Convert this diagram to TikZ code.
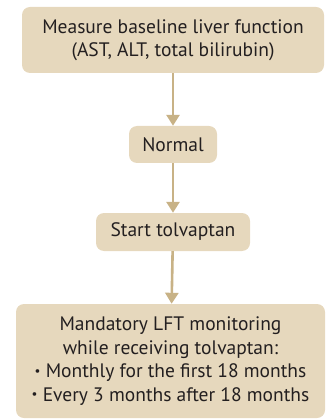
\documentclass[tikz,border=0pt]{standalone}
\usepackage{fontspec}
\setmainfont{PT Sans}
\usetikzlibrary{arrows.meta}
\definecolor{boxfill}{HTML}{E6D8BD}
\definecolor{arrowc}{HTML}{C8B286}
\definecolor{txt}{HTML}{231F20}
\newcommand{\smbul}{{\fontsize{13}{13}\selectfont\raisebox{2.5pt}{\textbullet}}\ }
\tikzset{
  stepbox/.style={fill=boxfill, rounded corners=8pt, inner sep=0pt, align=center, text=txt,
    font=\fontsize{19.5}{23.5}\selectfont},
  flow/.style={draw=arrowc, line width=2.6pt, -{Triangle[length=11pt,width=13pt]}}
}
\begin{document}
\begin{tikzpicture}[x=1pt,y=-1pt]
\useasboundingbox (0,0) rectangle (326,419);
\clip (0,0) rectangle (326,419);
\node[stepbox, minimum width=302pt, minimum height=66pt] (a) at (173,40) {Measure baseline liver function\\(AST, ALT, total bilirubin)};
\node[stepbox, minimum width=88pt, minimum height=37pt] (b) at (173,144.5) {Normal};
\node[stepbox, minimum width=154pt, minimum height=38pt] (c) at (173,232) {Start tolvaptan};
\node[stepbox, minimum width=309pt, minimum height=114pt] (d) at (170.5,361) {Mandatory LFT monitoring\\while receiving tolvaptan:\\\smbul Monthly for the first 18 months\\\smbul Every 3 months after 18 months};
\draw[flow] (a) -- (b);
\draw[flow] (b) -- (c);
\draw[flow] (c) -- (d);
\end{tikzpicture}
\end{document}
